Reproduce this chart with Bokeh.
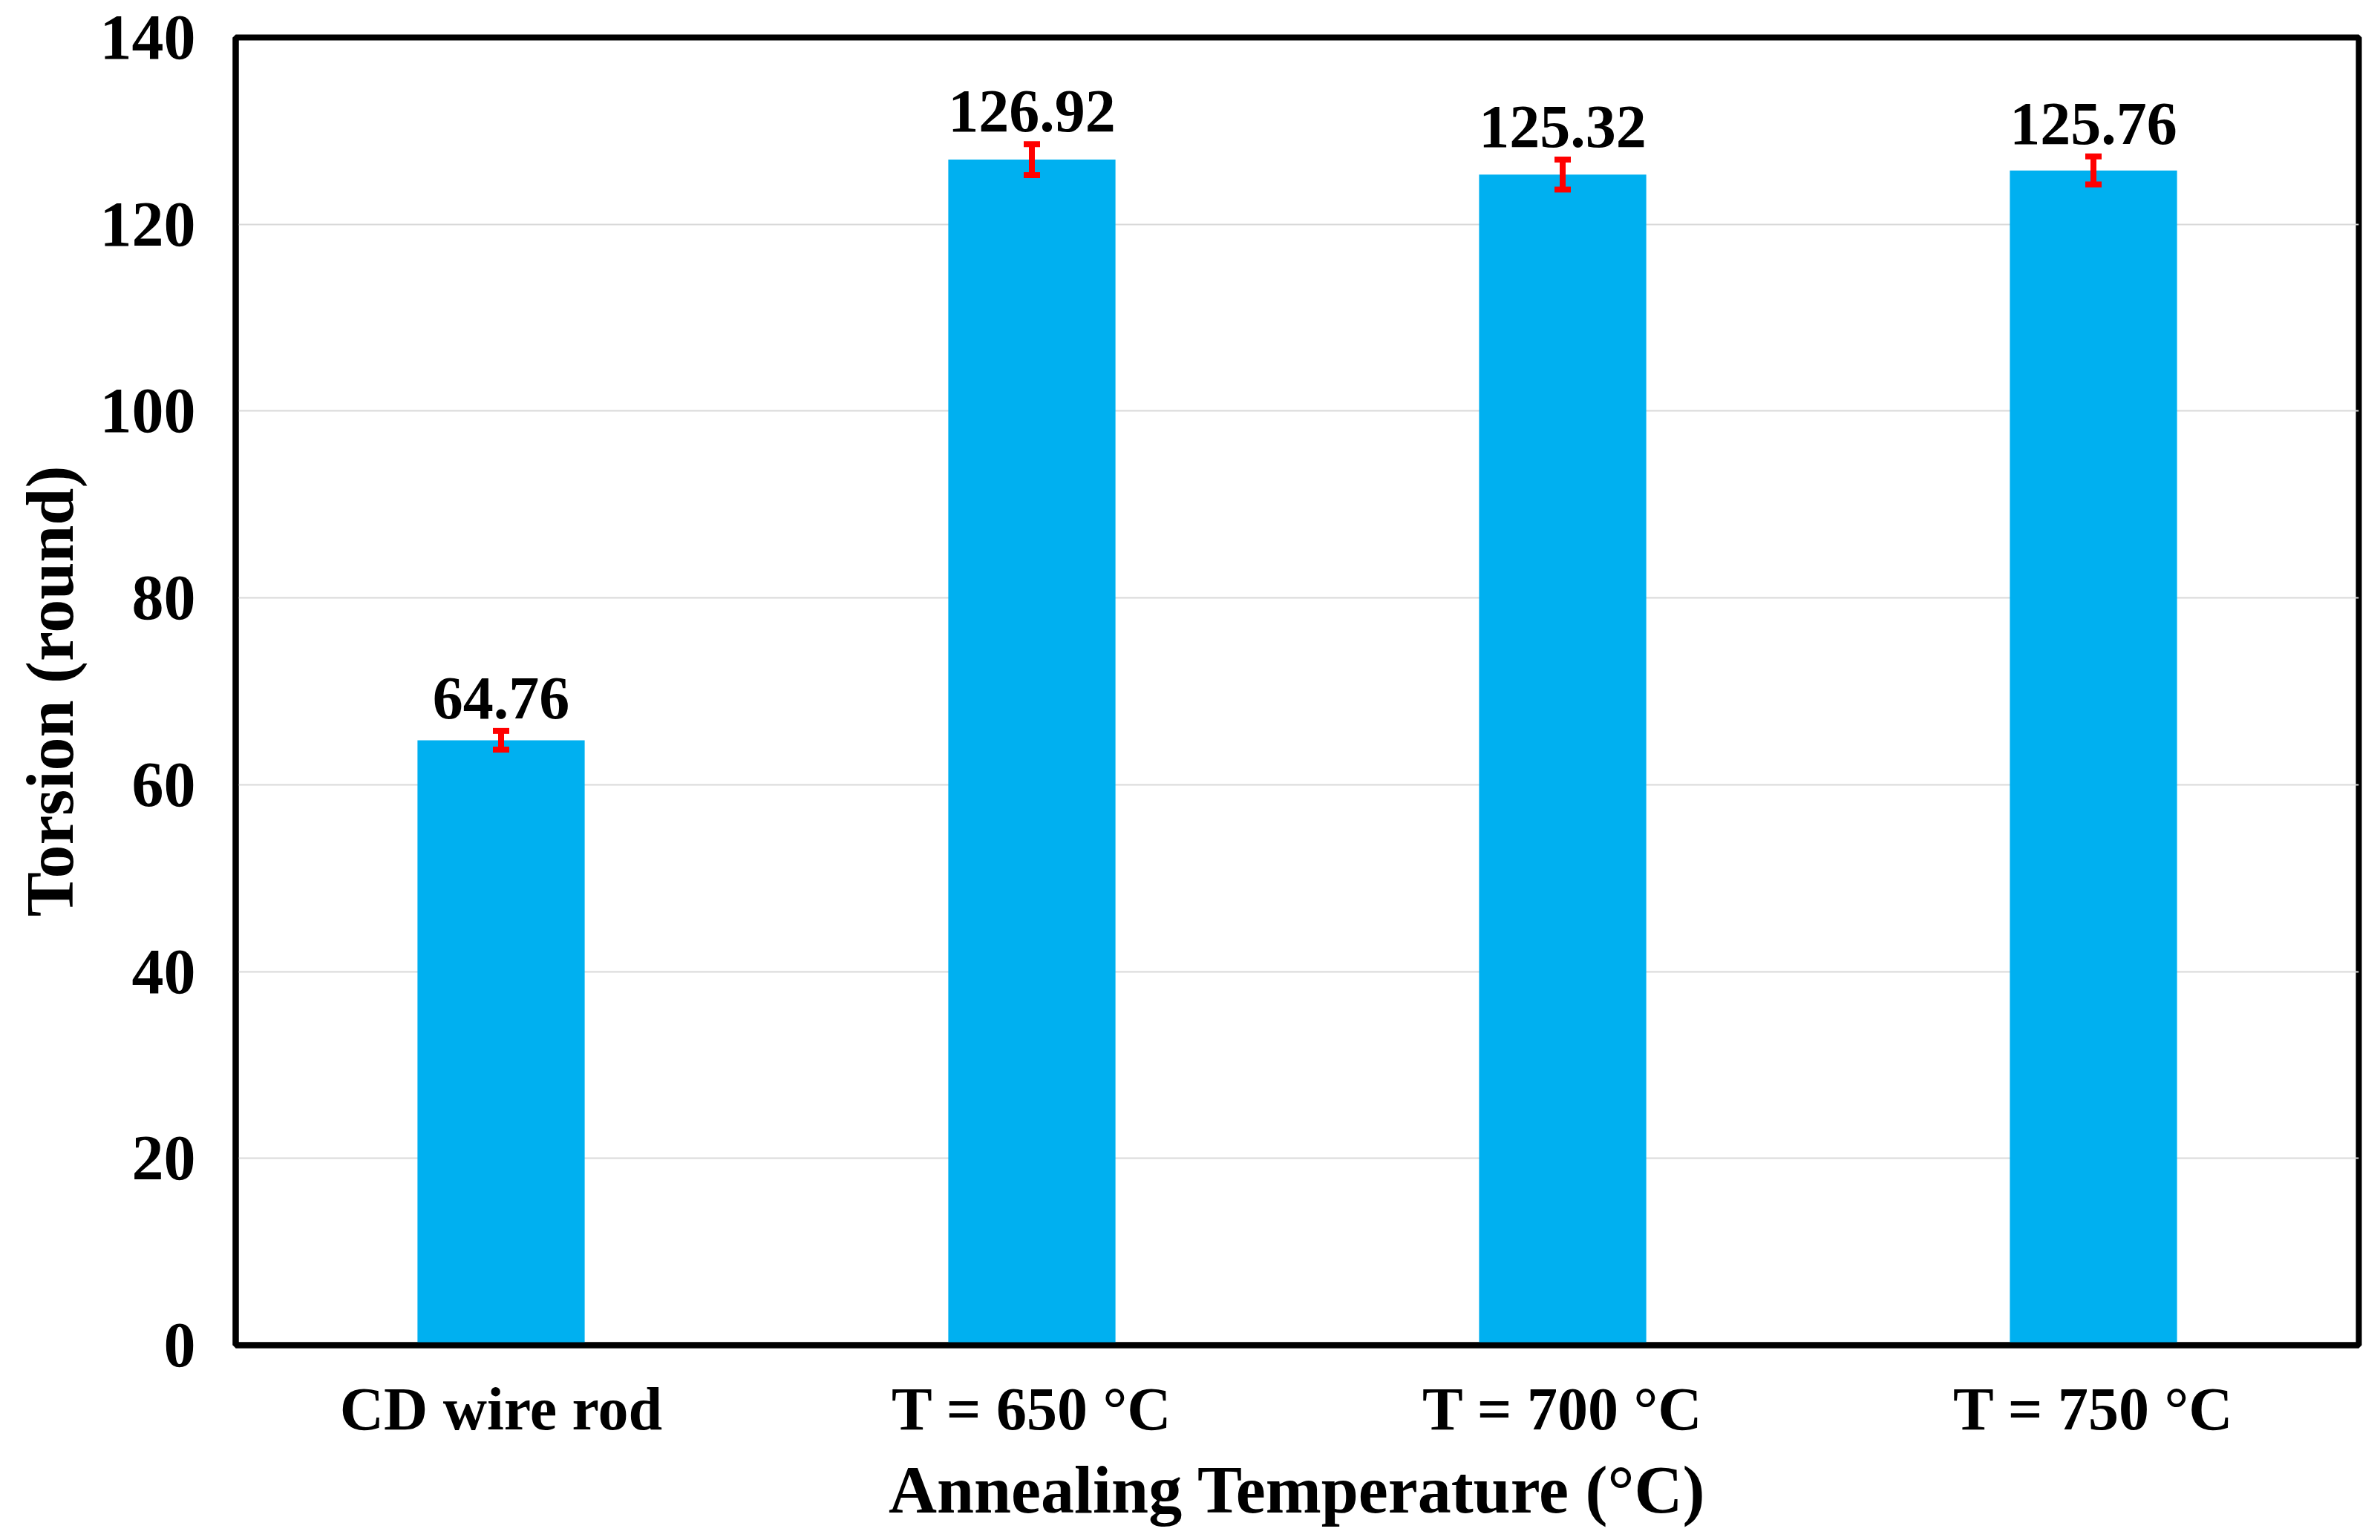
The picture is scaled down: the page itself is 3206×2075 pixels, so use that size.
from bokeh.plotting import figure
from bokeh.models import ColumnDataSource, Whisker, TeeHead, FactorRange, Range1d, FixedTicker
from bokeh.embed import file_html
from bokeh.resources import INLINE
from bokeh.core.properties import value

categories = ["CD wire rod", "T = 650 °C", "T = 700 °C", "T = 750 °C"]
torsion = [64.76, 126.92, 125.32, 125.76]
errors = [1.0, 1.65, 1.6, 1.5]
value_labels = ["64.76", "126.92", "125.32", "125.76"]
y_ticks = [0, 20, 40, 60, 80, 100, 120, 140]

upper = [v + e for v, e in zip(torsion, errors)]
lower = [v - e for v, e in zip(torsion, errors)]
src = ColumnDataSource(dict(cat=categories, val=torsion, upper=upper,
                            lower=lower, label=value_labels))

FONT = "Liberation Serif"

p = figure(x_range=FactorRange(*categories, range_padding=0),
           y_range=Range1d(0, 140),
           width=3190, height=2059,
           output_backend="svg", toolbar_location=None,
           min_border_left=317, min_border_right=13,
           min_border_top=50, min_border_bottom=246)

p.background_fill_color = "white"
p.border_fill_color = "white"
p.outline_line_color = "black"
p.outline_line_width = 8

p.vbar(x="cat", top="val", width=0.315, source=src,
       fill_color="#00B0F0", line_color=None)

wh = Whisker(base="cat", upper="upper", lower="lower", source=src,
             line_color="red", line_width=8, level="overlay",
             upper_head=TeeHead(size=22, line_color="red", line_width=8),
             lower_head=TeeHead(size=22, line_color="red", line_width=8))
p.add_layout(wh)

p.text(x="cat", y="upper", text="label", source=src,
       text_font=value(FONT), text_font_style="bold", text_font_size="82px",
       text_align="center", text_baseline="alphabetic", y_offset=-44,
       text_color="black")

p.xgrid.grid_line_color = None
p.ygrid.grid_line_color = "#d9d9d9"
p.ygrid.grid_line_width = 2

p.yaxis.ticker = FixedTicker(ticks=y_ticks)

for ax in (p.xaxis[0], p.yaxis[0]):
    ax.axis_line_color = "black"
    ax.axis_line_width = 8
    ax.major_tick_line_color = None
    ax.minor_tick_line_color = None
    ax.major_label_text_font = FONT
    ax.major_label_text_font_style = "bold"
    ax.major_label_text_color = "black"
    ax.axis_label_text_font = FONT
    ax.axis_label_text_font_style = "bold"
    ax.axis_label_text_font_size = "90px"
    ax.axis_label_text_color = "black"

p.xaxis.major_label_text_font_size = "82px"
p.yaxis.major_label_text_font_size = "86px"
p.xaxis.axis_label = "Annealing Temperature (°C)"
p.yaxis.axis_label = "Torsion (round)"
p.xaxis.major_label_standoff = 34
p.xaxis.axis_label_standoff = 11
p.yaxis.major_label_standoff = 48
p.yaxis.axis_label_standoff = 15

open("out.html", "w").write(file_html(p, INLINE))
